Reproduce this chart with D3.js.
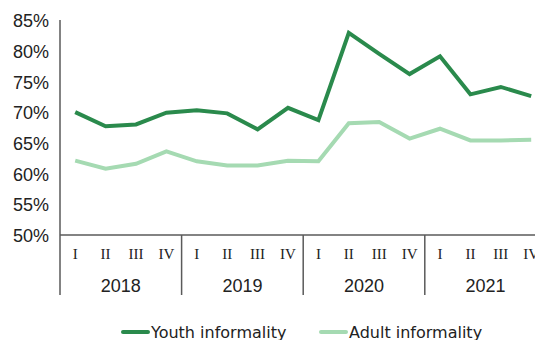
<!DOCTYPE html>
<html>
<head>
<meta charset="utf-8">
<script src="https://cdn.jsdelivr.net/npm/d3@7"></script>
<style>
  html, body { margin: 0; padding: 0; background: #fff; }
  svg { display: block; }
</style>
</head>
<body>
<svg id="chart" width="535" height="340"></svg>
<script>
// Quarterly informality rates, 2018–2021
const years = ["2018", "2019", "2020", "2021"];
const quarters = ["I", "II", "III", "IV"];
const youthInformality = [70.0, 67.7, 68.0, 69.9, 70.3, 69.8, 67.2, 70.7, 68.7, 82.9, 79.5, 76.2, 79.1, 72.9, 74.1, 72.6];
const adultInformality = [62.1, 60.8, 61.6, 63.6, 62.0, 61.3, 61.3, 62.1, 62.0, 68.2, 68.4, 65.7, 67.3, 65.4, 65.4, 65.5];
const yTicks = [50, 55, 60, 65, 70, 75, 80, 85];

const periods = years.flatMap(yr => quarters.map(q => yr + "-" + q));

const svg = d3.select("#chart");
const plotLeft = 60, plotTop = 20, plotBottom = 235, sepBottom = 295;
const plotRight = plotLeft + 30.4 * periods.length;

const x = d3.scaleBand().domain(periods).range([plotLeft, plotRight]);
const y = d3.scaleLinear().domain([50, 85]).range([plotBottom, plotTop]);
const xYear = d3.scaleBand().domain(years).range([plotLeft, plotRight]);

const axisColor = "#5a5a5a";

// Y axis labels
svg.append("g").selectAll("text").data(yTicks).join("text")
  .attr("x", 49)
  .attr("y", d => y(d))
  .attr("dy", "0.4em")
  .attr("text-anchor", "end")
  .attr("font-family", "'Liberation Sans', Arial, sans-serif")
  .attr("font-size", 18)
  .attr("fill", "#222")
  .text(d => d + "%");

// Axis lines
svg.append("line")
  .attr("x1", plotLeft).attr("x2", plotLeft)
  .attr("y1", plotTop).attr("y2", sepBottom)
  .attr("stroke", axisColor).attr("stroke-width", 1.5);
svg.append("line")
  .attr("x1", plotLeft).attr("x2", 535)
  .attr("y1", plotBottom).attr("y2", plotBottom)
  .attr("stroke", axisColor).attr("stroke-width", 1.5);

// Year separators
svg.append("g").selectAll("line").data(years.slice(1)).join("line")
  .attr("x1", d => xYear(d)).attr("x2", d => xYear(d))
  .attr("y1", plotBottom).attr("y2", sepBottom)
  .attr("stroke", axisColor).attr("stroke-width", 1.5);

// Quarter labels
svg.append("g").selectAll("text").data(periods).join("text")
  .attr("x", d => x(d) + x.bandwidth() / 2)
  .attr("y", 259)
  .attr("text-anchor", "middle")
  .attr("font-family", "'Liberation Serif', 'Times New Roman', serif")
  .attr("font-size", 15)
  .attr("fill", "#222")
  .text(d => d.split("-")[1]);

// Year labels
svg.append("g").selectAll("text").data(years).join("text")
  .attr("x", d => xYear(d) + xYear.bandwidth() / 2)
  .attr("y", 292)
  .attr("text-anchor", "middle")
  .attr("font-family", "'Liberation Sans', Arial, sans-serif")
  .attr("font-size", 18)
  .attr("fill", "#222")
  .text(d => d);

// Lines
const series = [
  { name: "Youth informality", values: youthInformality, color: "#2a8a4c" },
  { name: "Adult informality", values: adultInformality, color: "#a5dab2" }
];
const line = d3.line()
  .x((d, i) => x(periods[i]) + x.bandwidth() / 2)
  .y(d => y(d));

svg.append("g").selectAll("path").data(series.slice().reverse()).join("path")
  .attr("d", d => line(d.values))
  .attr("fill", "none")
  .attr("stroke", d => d.color)
  .attr("stroke-width", 4)
  .attr("stroke-linejoin", "miter");

// Legend
const legendItems = [
  { s: series[0], x: 123 },
  { s: series[1], x: 321 }
];
const lg = svg.append("g").selectAll("g").data(legendItems).join("g")
  .attr("transform", d => `translate(${d.x},332)`);
lg.append("line")
  .attr("x1", 0).attr("x2", 25).attr("y1", 0).attr("y2", 0)
  .attr("stroke", d => d.s.color).attr("stroke-width", 4)
  .attr("stroke-linecap", "round");
lg.append("text")
  .attr("x", 28).attr("y", 5.5)
  .attr("font-family", "'DejaVu Sans', Verdana, sans-serif")
  .attr("font-size", 16)
  .attr("fill", "#222")
  .text(d => d.s.name);
</script>
</body>
</html>
